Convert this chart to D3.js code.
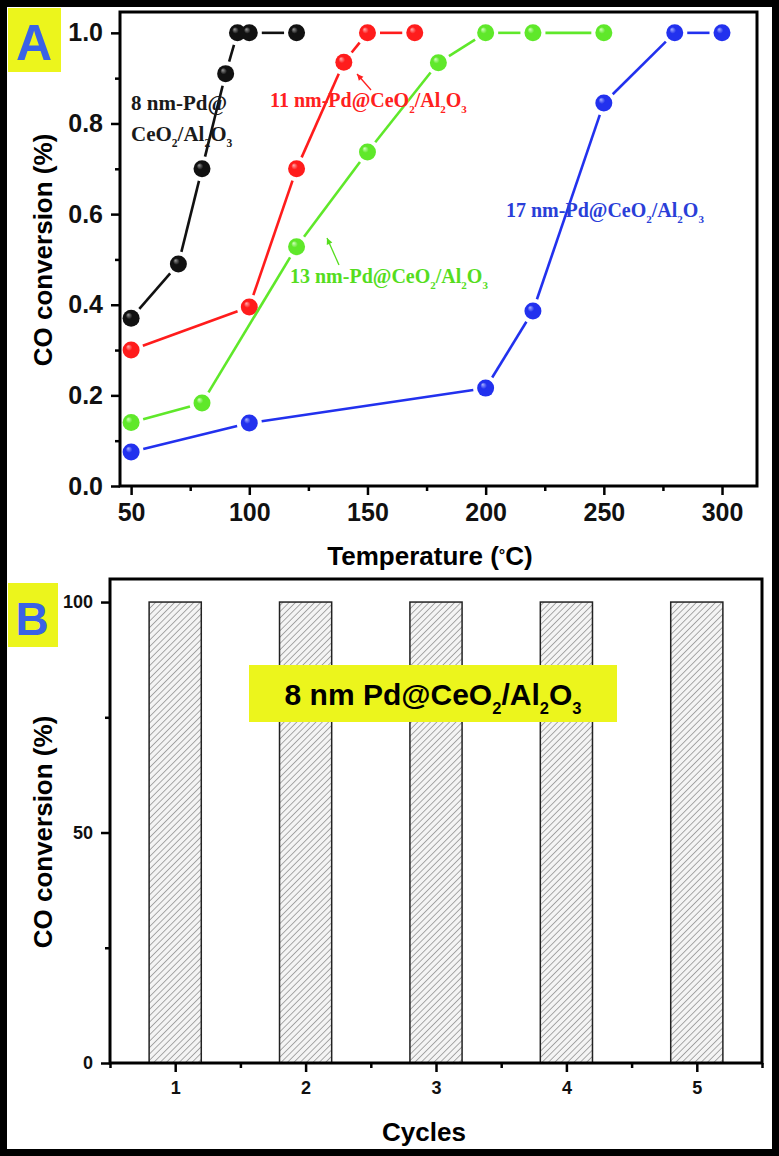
<!DOCTYPE html>
<html>
<head>
<meta charset="utf-8">
<script src="https://cdn.jsdelivr.net/npm/d3@7"></script>
<style>
  body { margin: 0; background: #fff; }
  svg { display: block; }
  .tick text { font-family: "Liberation Sans", Arial, sans-serif; font-weight: bold; fill: #111; }
</style>
</head>
<body>
<div id="chart"></div>
<script>
// Panel A data: temperature (°C) vs CO conversion
var temps8 = [50, 70, 80, 90, 95, 100, 120];
var conv8 = [0.37, 0.49, 0.70, 0.91, 1.0, 1.0, 1.0];
var temps11 = [50, 100, 120, 140, 150, 170];
var conv11 = [0.30, 0.395, 0.70, 0.935, 1.0, 1.0];
var temps13 = [50, 80, 120, 150, 180, 200, 220, 250];
var conv13 = [0.14, 0.183, 0.528, 0.737, 0.934, 1.0, 1.0, 1.0];
var temps17 = [50, 100, 200, 220, 250, 280, 300];
var conv17 = [0.075, 0.139, 0.216, 0.386, 0.845, 1.0, 1.0];

var xTicksA = [50, 100, 150, 200, 250, 300];
var yTicksA = [0.0, 0.2, 0.4, 0.6, 0.8, 1.0];

// Panel B data: recycling test
var cycles = [1, 2, 3, 4, 5];
var cycleConv = [100, 100, 100, 100, 100];
var yTicksB = [0, 50, 100];

var W = 779, H = 1156;
var svg = d3.select("#chart").append("svg")
    .attr("width", W)
    .attr("height", H);

var defs = svg.append("defs");

// sphere-like marker gradients
var seriesList = [
    { id: "s8", t: temps8, c: conv8, color: "#111111", light: "#9a9a9a" },
    { id: "s11", t: temps11, c: conv11, color: "#ff1c1c", light: "#ffb0b0" },
    { id: "s13", t: temps13, c: conv13, color: "#5fe82a", light: "#d4ffc0" },
    { id: "s17", t: temps17, c: conv17, color: "#2231ee", light: "#a9b2ff" }
];
seriesList.forEach(function (s) {
    var g = defs.append("radialGradient")
        .attr("id", "grad-" + s.id)
        .attr("cx", "50%").attr("cy", "50%").attr("r", "55%")
        .attr("fx", "32%").attr("fy", "28%");
    g.append("stop").attr("offset", "0%").attr("stop-color", s.light);
    g.append("stop").attr("offset", "35%").attr("stop-color", s.color);
    g.append("stop").attr("offset", "100%").attr("stop-color", s.color);
});

// hatch pattern for bars
var pat = defs.append("pattern")
    .attr("id", "hatch")
    .attr("patternUnits", "userSpaceOnUse")
    .attr("width", 4.5).attr("height", 4.5)
    .attr("patternTransform", "rotate(45)");
pat.append("rect").attr("width", 4.5).attr("height", 4.5).attr("fill", "#f4f4f4");
pat.append("line").attr("x1", 0).attr("y1", 0).attr("x2", 0).attr("y2", 4.5)
    .attr("stroke", "#6a6a6a").attr("stroke-width", 1.1);

var sansFont = "'Liberation Sans', Arial, sans-serif";
var serifFont = "'Liberation Serif', 'Times New Roman', serif";

// outer frame
svg.append("rect")
    .attr("x", 3.5).attr("y", 3.5)
    .attr("width", W - 7).attr("height", H - 7)
    .attr("fill", "none")
    .attr("stroke", "#000")
    .attr("stroke-width", 7);

// ---------------- Panel A ----------------
var a = { left: 120, right: 757, top: 12, bottom: 486 };

var xA = d3.scaleLinear().domain([45.3, 314.8]).range([a.left, a.right]);
var yA = d3.scaleLinear().domain([0, 1.046]).range([a.bottom, a.top]);

var gA = svg.append("g");

// minor ticks
gA.append("g")
    .attr("transform", "translate(0," + a.bottom + ")")
    .call(d3.axisBottom(xA).tickValues([75, 125, 175, 225, 275]).tickSize(5).tickSizeOuter(0).tickFormat(""))
    .call(g => g.select(".domain").remove())
    .call(g => g.selectAll("line").attr("stroke-width", 2.5));
gA.append("g")
    .attr("transform", "translate(" + a.left + ",0)")
    .call(d3.axisLeft(yA).tickValues([0.1, 0.3, 0.5, 0.7, 0.9]).tickSize(5).tickSizeOuter(0).tickFormat(""))
    .call(g => g.select(".domain").remove())
    .call(g => g.selectAll("line").attr("stroke-width", 2.5));

// major ticks
gA.append("g")
    .attr("transform", "translate(0," + a.bottom + ")")
    .call(d3.axisBottom(xA).tickValues(xTicksA).tickSize(9).tickSizeOuter(0).tickPadding(8).tickFormat(d3.format("d")))
    .call(g => g.select(".domain").remove())
    .call(g => g.selectAll("line").attr("stroke-width", 2.5))
    .call(g => g.selectAll("text").style("font-size", "25px"));
gA.append("g")
    .attr("transform", "translate(" + a.left + ",0)")
    .call(d3.axisLeft(yA).tickValues(yTicksA).tickSize(9).tickSizeOuter(0).tickPadding(8).tickFormat(d3.format(".1f")))
    .call(g => g.select(".domain").remove())
    .call(g => g.selectAll("line").attr("stroke-width", 2.5))
    .call(g => g.selectAll("text").style("font-size", "25px"));

gA.append("rect")
    .attr("x", a.left).attr("y", a.top)
    .attr("width", a.right - a.left).attr("height", a.bottom - a.top)
    .attr("fill", "none").attr("stroke", "#000").attr("stroke-width", 3);

var R = 8.5;

// line segments with small gaps around each marker
seriesList.forEach(function (s) {
    var pts = s.t.map(function (t, i) { return [xA(t), yA(s.c[i])]; });
    for (var i = 0; i < pts.length - 1; i++) {
        var p = pts[i], q = pts[i + 1];
        var dx = q[0] - p[0], dy = q[1] - p[1];
        var len = Math.sqrt(dx * dx + dy * dy);
        var gap = R + 4;
        if (len < gap * 2 + 2) gap = R + 1;
        if (len <= gap * 2 + 1) continue;
        var ux = dx / len, uy = dy / len;
        gA.append("line")
            .attr("x1", p[0] + ux * gap).attr("y1", p[1] + uy * gap)
            .attr("x2", q[0] - ux * gap).attr("y2", q[1] - uy * gap)
            .attr("stroke", s.color)
            .attr("stroke-width", 2.6);
    }
    gA.selectAll(".m-" + s.id)
        .data(pts)
        .enter().append("circle")
        .attr("cx", d => d[0])
        .attr("cy", d => d[1])
        .attr("r", R)
        .attr("fill", "url(#grad-" + s.id + ")");
});

// formula label helper: parts = [[text, isSub, resetBaseline], ...]
function formula(g, x, y, parts, size, color, family) {
    var t = g.append("text")
        .attr("x", x).attr("y", y)
        .attr("fill", color)
        .style("font-family", family)
        .style("font-weight", "bold")
        .style("font-size", size + "px");
    parts.forEach(function (p) {
        var ts = t.append("tspan").text(p[0]);
        if (p[1]) {
            ts.attr("dy", size * 0.3).style("font-size", (size * 0.55) + "px");
        } else if (p[2]) {
            ts.attr("dy", -size * 0.3);
        }
    });
    return t;
}

var tail = [["CeO", 0], ["2", 1], ["/Al", 0, 1], ["2", 1], ["O", 0, 1], ["3", 1]];

formula(gA, 131, 110, [["8 nm-Pd@", 0]], 21, "#1a1a1a", serifFont);
formula(gA, 131, 141, tail, 21, "#1a1a1a", serifFont);
formula(gA, 270, 107, [["11 nm-Pd@", 0]].concat(tail), 20, "#ff2020", serifFont);
formula(gA, 290, 283, [["13 nm-Pd@", 0]].concat(tail), 20, "#55dd1e", serifFont);
formula(gA, 506, 217, [["17 nm-Pd@", 0]].concat(tail), 20, "#2a3ed8", serifFont);

// small arrows
function arrow(x1, y1, x2, y2, color) {
    var ang = Math.atan2(y2 - y1, x2 - x1);
    gA.append("line")
        .attr("x1", x1).attr("y1", y1).attr("x2", x2).attr("y2", y2)
        .attr("stroke", color).attr("stroke-width", 1.3);
    var hl = 7, hw = 0.45;
    gA.append("path")
        .attr("d", "M" + x2 + "," + y2 +
            "L" + (x2 - hl * Math.cos(ang - hw)) + "," + (y2 - hl * Math.sin(ang - hw)) +
            "L" + (x2 - hl * Math.cos(ang + hw)) + "," + (y2 - hl * Math.sin(ang + hw)) + "Z")
        .attr("fill", color);
}
arrow(371, 90, 357, 74, "#ff2020");
arrow(339, 265, 327, 238, "#55dd1e");

// axis titles A
gA.append("text")
    .attr("transform", "translate(52,250) rotate(-90)")
    .attr("text-anchor", "middle")
    .style("font-family", sansFont).style("font-weight", "bold").style("font-size", "26px")
    .text("CO conversion (%)");
var tt = gA.append("text")
    .attr("x", 430).attr("y", 565)
    .attr("text-anchor", "middle")
    .style("font-family", sansFont).style("font-weight", "bold").style("font-size", "26px");
tt.append("tspan").text("Temperature (");
tt.append("tspan").text("°").attr("dy", -4).style("font-size", "16px");
tt.append("tspan").text("C)").attr("dy", 4);

// panel letter A
svg.append("rect").attr("x", 8).attr("y", 8).attr("width", 53).attr("height", 64).attr("fill", "#ecf51c");
svg.append("text").attr("x", 34).attr("y", 60).attr("text-anchor", "middle")
    .style("font-family", sansFont).style("font-weight", "bold").style("font-size", "50px")
    .attr("fill", "#3a62e6").text("A");

// ---------------- Panel B ----------------
var b = { left: 110, right: 762, top: 579, bottom: 1063 };

var xB = d3.scaleLinear().domain([0.5, 5.5]).range([b.left, b.right]);
var yB = d3.scaleLinear().domain([0, 105]).range([b.bottom, b.top]);

var gB = svg.append("g");

gB.append("g")
    .attr("transform", "translate(0," + b.bottom + ")")
    .call(d3.axisBottom(xB).tickValues([0.5, 1.5, 2.5, 3.5, 4.5, 5.5]).tickSize(5).tickSizeOuter(0).tickFormat(""))
    .call(g => g.select(".domain").remove())
    .call(g => g.selectAll("line").attr("stroke-width", 2.5));
gB.append("g")
    .attr("transform", "translate(" + b.left + ",0)")
    .call(d3.axisLeft(yB).tickValues([25, 75]).tickSize(5).tickSizeOuter(0).tickFormat(""))
    .call(g => g.select(".domain").remove())
    .call(g => g.selectAll("line").attr("stroke-width", 2.5));
gB.append("g")
    .attr("transform", "translate(0," + b.bottom + ")")
    .call(d3.axisBottom(xB).tickValues(cycles).tickSize(9).tickSizeOuter(0).tickPadding(9).tickFormat(d3.format("d")))
    .call(g => g.select(".domain").remove())
    .call(g => g.selectAll("line").attr("stroke-width", 2.5))
    .call(g => g.selectAll("text").style("font-size", "18px"));
gB.append("g")
    .attr("transform", "translate(" + b.left + ",0)")
    .call(d3.axisLeft(yB).tickValues(yTicksB).tickSize(9).tickSizeOuter(0).tickPadding(8).tickFormat(d3.format("d")))
    .call(g => g.select(".domain").remove())
    .call(g => g.selectAll("line").attr("stroke-width", 2.5))
    .call(g => g.selectAll("text").style("font-size", "18px"));

var barW = (xB(1.4) - xB(1));
gB.selectAll(".bar")
    .data(cycles)
    .enter().append("rect")
    .attr("x", (d) => xB(d) - barW / 2)
    .attr("y", (d, i) => yB(cycleConv[i]))
    .attr("width", barW)
    .attr("height", (d, i) => b.bottom - yB(cycleConv[i]))
    .attr("fill", "url(#hatch)")
    .attr("stroke", "#222")
    .attr("stroke-width", 1.5);

gB.append("rect")
    .attr("x", b.left).attr("y", b.top)
    .attr("width", b.right - b.left).attr("height", b.bottom - b.top)
    .attr("fill", "none").attr("stroke", "#000").attr("stroke-width", 3);

// annotation box
gB.append("rect").attr("x", 249).attr("y", 665).attr("width", 368).attr("height", 57).attr("fill", "#ecf51c");
formula(gB, 433, 705, [["8 nm Pd@CeO", 0], ["2", 1], ["/Al", 0, 1], ["2", 1], ["O", 0, 1], ["3", 1]], 30, "#000", sansFont)
    .attr("text-anchor", "middle");

gB.append("text")
    .attr("transform", "translate(52,832) rotate(-90)")
    .attr("text-anchor", "middle")
    .style("font-family", sansFont).style("font-weight", "bold").style("font-size", "26px")
    .text("CO conversion (%)");
gB.append("text")
    .attr("x", 424).attr("y", 1141)
    .attr("text-anchor", "middle")
    .style("font-family", sansFont).style("font-weight", "bold").style("font-size", "26px")
    .text("Cycles");

// panel letter B
svg.append("rect").attr("x", 8).attr("y", 583).attr("width", 50).attr("height", 64).attr("fill", "#ecf51c");
svg.append("text").attr("x", 32).attr("y", 635).attr("text-anchor", "middle")
    .style("font-family", sansFont).style("font-weight", "bold").style("font-size", "46px")
    .attr("fill", "#3a62e6").text("B");
</script>
</body>
</html>
